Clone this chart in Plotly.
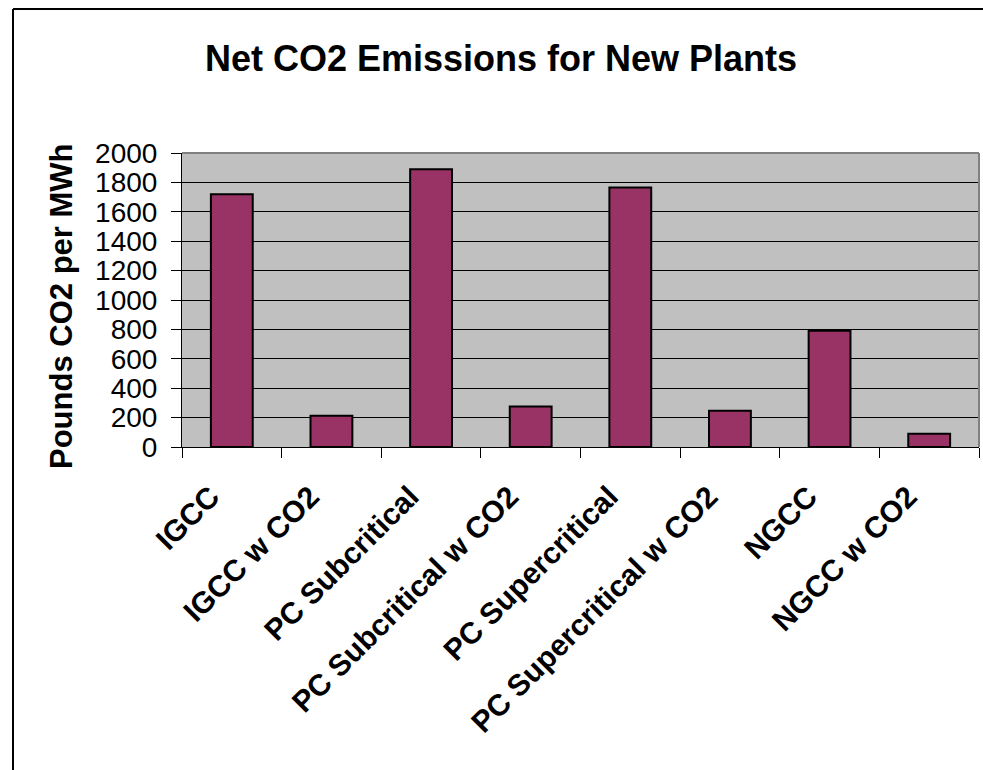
import plotly.graph_objects as go

categories = ["IGCC", "IGCC w CO2", "PC Subcritical", "PC Subcritical w CO2",
              "PC Supercritical", "PC Supercritical w CO2", "NGCC", "NGCC w CO2"]
emissions = [1720, 212, 1889, 276, 1765, 246, 790, 90]
y_ticks = [0, 200, 400, 600, 800, 1000, 1200, 1400, 1600, 1800, 2000]

W, H = 983, 770
L, R, T, B = 182, 4, 153, 323
pw, ph = W - L - R, H - T - B

def px_x(p):
    return (p - L) / pw

def px_y(p):
    return (H - B - p) / ph

FONT = "Liberation Sans, Arial, sans-serif"

fig = go.Figure()
fig.add_trace(go.Bar(
    x=categories, y=emissions, width=0.42,
    marker=dict(color="#993366", line=dict(color="#000000", width=2)),
))

fig.update_layout(
    width=W, height=H,
    margin=dict(l=L, r=R, t=T, b=B, autoexpand=False),
    paper_bgcolor="#ffffff",
    plot_bgcolor="#c0c0c0",
    showlegend=False,
    title=dict(text="<b>Net CO2 Emissions for New Plants</b>",
               x=501 / W, xref="container", xanchor="center",
               y=1 - 58 / H, yref="container", yanchor="middle",
               font=dict(family=FONT, size=36, color="#000000")),
    font=dict(family=FONT, color="#000000"),
)

fig.update_xaxes(
    type="category", tickson="boundaries", ticks="outside", ticklen=10,
    tickwidth=1, tickcolor="#000000", showline=True, linecolor="#000000",
    linewidth=1, showgrid=False, tickangle=-45,
    ticklabelstandoff=19, ticklabelshift=-21,
    tickfont=dict(family=FONT, size=30, color="#000000", weight="bold"),
    automargin=False,
)
fig.update_yaxes(
    range=[0, 2000], tickvals=y_ticks, ticktext=[str(v) for v in y_ticks],
    ticks="outside", ticklen=10, tickcolor="#000000", showline=True,
    linecolor="#000000", linewidth=1, showgrid=True, gridcolor="#000000",
    gridwidth=1, zeroline=False, ticklabelstandoff=8,
    tickfont=dict(family=FONT, size=28, color="#000000"),
    automargin=False,
)

fig.add_annotation(
    text="<b>Pounds CO2 per MWh</b>", textangle=-90,
    x=px_x(61), y=px_y(306), xref="paper", yref="paper",
    xanchor="center", yanchor="middle", showarrow=False,
    font=dict(family=FONT, size=31, color="#000000"),
)

# plot area top/right border (grey)
fig.add_shape(type="line", xref="paper", yref="paper", x0=0, x1=1, y0=1, y1=1,
              line=dict(color="#808080", width=2))
fig.add_shape(type="line", xref="paper", yref="paper", x0=1, x1=1, y0=0, y1=1,
              line=dict(color="#808080", width=2))
# chart frame (left and top edges; the rest lies outside the picture)
fig.add_shape(type="line", xref="paper", yref="paper",
              x0=px_x(13), x1=px_x(13), y0=px_y(H), y1=px_y(9),
              line=dict(color="#000000", width=2))
fig.add_shape(type="line", xref="paper", yref="paper",
              x0=px_x(13), x1=px_x(W), y0=px_y(9), y1=px_y(9),
              line=dict(color="#000000", width=2))

fig.write_html("out.html")
